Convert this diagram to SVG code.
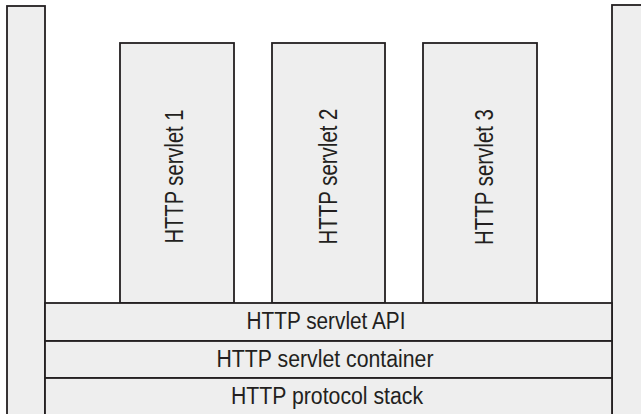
<svg xmlns="http://www.w3.org/2000/svg" width="641" height="414" viewBox="0 0 641 414">
  <style>
    .box { fill: #eeeeee; stroke: #231f20; stroke-width: 1.8; }
    .lbl { font-family: "Liberation Sans", Arial, sans-serif; font-size: 23px; fill: #231f20; text-anchor: middle; }
    .vlbl { font-family: "Liberation Sans", Arial, sans-serif; font-size: 25px; fill: #231f20; text-anchor: middle; }
  </style>
  <rect width="641" height="414" fill="#ffffff"/>

  <!-- side pillars -->
  <g id="left-pillar"><rect class="box" x="7" y="6" width="38" height="420"/></g>
  <g id="right-pillar"><rect class="box" x="612" y="5" width="40" height="420"/></g>

  <!-- servlets -->
  <g id="servlet1">
    <rect class="box" x="120" y="43" width="114" height="260"/>
    <text class="vlbl" transform="translate(183,176.5) rotate(-90)" textLength="134" lengthAdjust="spacingAndGlyphs">HTTP servlet 1</text>
  </g>
  <g id="servlet2">
    <rect class="box" x="272" y="43" width="113" height="260"/>
    <text class="vlbl" transform="translate(337,176.5) rotate(-90)" textLength="136" lengthAdjust="spacingAndGlyphs">HTTP servlet 2</text>
  </g>
  <g id="servlet3">
    <rect class="box" x="423" y="43" width="114" height="260"/>
    <text class="vlbl" transform="translate(493,177) rotate(-90)" textLength="136" lengthAdjust="spacingAndGlyphs">HTTP servlet 3</text>
  </g>

  <!-- layers -->
  <g id="servlet-api">
    <rect class="box" x="45" y="303" width="567" height="38"/>
    <text class="lbl" x="326" y="328.5" textLength="159" lengthAdjust="spacingAndGlyphs">HTTP servlet API</text>
  </g>
  <g id="servlet-container">
    <rect class="box" x="45" y="341" width="567" height="37"/>
    <text class="lbl" x="325" y="366.5" textLength="217" lengthAdjust="spacingAndGlyphs">HTTP servlet container</text>
  </g>
  <g id="protocol-stack">
    <rect class="box" x="45" y="378" width="567" height="50"/>
    <text class="lbl" x="327" y="403.5" textLength="192" lengthAdjust="spacingAndGlyphs">HTTP protocol stack</text>
  </g>

  <g id="connectors"/>
</svg>
